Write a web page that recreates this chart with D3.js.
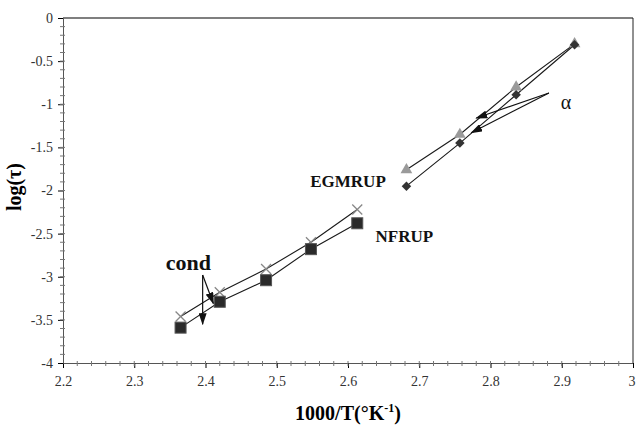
<!DOCTYPE html>
<html>
<head>
<meta charset="utf-8">
<script src="https://cdn.jsdelivr.net/npm/d3@7"></script>
<style>
  body { margin: 0; background: #fff; }
  text { font-family: "Liberation Serif", "Times New Roman", serif; }
</style>
</head>
<body>
<script>
// data
var condX = [2.365, 2.42, 2.485, 2.548, 2.613];
var squareY = [-3.59, -3.29, -3.04, -2.68, -2.38];   // NFRUP
var crossY = [-3.46, -3.18, -2.91, -2.60, -2.22];    // EGMRUP
var alphaX = [2.682, 2.757, 2.836, 2.918];
var triY = [-1.76, -1.35, -0.80, -0.30];             // EGMRUP
var diaY = [-1.95, -1.45, -0.89, -0.31];             // NFRUP
var xTicks = [2.2, 2.3, 2.4, 2.5, 2.6, 2.7, 2.8, 2.9, 3];
var yTicks = [0, -0.5, -1, -1.5, -2, -2.5, -3, -3.5, -4];

var serif = '"Liberation Serif", "Times New Roman", serif';
var width = 636, height = 429;
var margin = {top: 18, right: 3, bottom: 66, left: 63};

var svg = d3.select("body").append("svg")
    .attr("width", width)
    .attr("height", height);

var x = d3.scaleLinear().domain([2.2, 3]).range([margin.left, width - margin.right]);
var y = d3.scaleLinear().domain([-4, 0]).range([height - margin.bottom, margin.top]);

// arrow head
svg.append("defs").append("marker")
    .attr("id", "head")
    .attr("viewBox", "0 0 12 8")
    .attr("refX", 11).attr("refY", 4)
    .attr("markerWidth", 12).attr("markerHeight", 8)
    .attr("markerUnits", "userSpaceOnUse")
    .attr("orient", "auto")
  .append("path")
    .attr("d", "M0,0L12,4L0,8z")
    .style("fill", "#111");

//FRAME
svg.append("line")
    .attr("x1", x(2.2)).attr("x2", x(3))
    .attr("y1", y(0)).attr("y2", y(0))
    .style("stroke", "#555").style("stroke-width", 1.5);
svg.append("line")
    .attr("x1", x(3)).attr("x2", x(3))
    .attr("y1", y(0)).attr("y2", y(-4))
    .style("stroke", "#222").style("stroke-width", 1);

//AXES
var xAxis = svg.append("g")
    .attr("transform", "translate(0," + y(-4) + ")")
    .call(d3.axisBottom(x).tickValues(xTicks).tickSize(5).tickFormat(d => d));
xAxis.attr("font-family", serif);
xAxis.select(".domain").style("stroke", "#555");
xAxis.selectAll("text")
    .style("font-family", serif)
    .style("font-size", "14px").style("fill", "#333").attr("dy", "1.05em")
    .filter(d => d === 3).attr("dx", "-0.1em");

var yAxis = svg.append("g")
    .attr("transform", "translate(" + x(2.2) + ",0)")
    .call(d3.axisLeft(y).tickValues(yTicks).tickSize(5).tickFormat(d => d));
yAxis.attr("font-family", serif);
yAxis.select(".domain").style("stroke", "#555");
yAxis.selectAll("text")
    .style("font-family", serif)
    .style("font-size", "14px").style("fill", "#333").attr("dx", "-0.15em");

// minor ticks
svg.append("g").selectAll("line").data(d3.range(2.22, 3, 0.02))
    .enter().append("line")
    .attr("x1", d => x(d)).attr("x2", d => x(d))
    .attr("y1", y(-4) - 2).attr("y2", y(-4) + 3)
    .style("stroke", "#777");
svg.append("g").selectAll("line").data(d3.range(-3.9, 0, 0.1))
    .enter().append("line")
    .attr("x1", x(2.2) - 3).attr("x2", x(2.2) + 2)
    .attr("y1", d => y(d)).attr("y2", d => y(d))
    .style("stroke", "#777");

// axis titles
var xt = svg.append("text")
    .attr("x", (x(2.2) + x(3)) / 2).attr("y", 420)
    .attr("text-anchor", "middle")
    .style("font-size", "20px").style("font-weight", "bold")
    .text("1000/T(°K");
xt.append("tspan").attr("dy", -8).style("font-size", "12px").text("-1");
xt.append("tspan").attr("dy", 8).text(")");

svg.append("text")
    .attr("transform", "translate(21," + y(-1.96) + ") rotate(-90)")
    .attr("text-anchor", "middle")
    .style("font-size", "20px").style("font-weight", "bold")
    .text("log(τ)");

//LINES
var line = d3.line().x(d => x(d[0])).y(d => y(d[1]));
var series = [
    d3.zip(condX, crossY),
    d3.zip(condX, squareY),
    d3.zip(alphaX, triY),
    d3.zip(alphaX, diaY)
];
svg.append("g").selectAll("path").data(series)
    .enter().append("path")
    .attr("d", line)
    .style("fill", "none")
    .style("stroke", "#1a1a1a")
    .style("stroke-width", 1.1);

//MARKERS
svg.append("g").selectAll("path").data(d3.zip(condX, crossY))
    .enter().append("path")
    .attr("transform", d => "translate(" + x(d[0]) + "," + y(d[1]) + ")")
    .attr("d", "M-5,-5L5,5M-5,5L5,-5")
    .style("stroke", "#888").style("stroke-width", 1.3);

svg.append("g").selectAll("rect").data(d3.zip(condX, squareY))
    .enter().append("rect")
    .attr("x", d => x(d[0]) - 5.5).attr("y", d => y(d[1]) - 5.5)
    .attr("width", 11).attr("height", 11)
    .style("fill", "#2a2a2a").style("stroke", "#555");

svg.append("g").selectAll("path").data(d3.zip(alphaX, triY))
    .enter().append("path")
    .attr("transform", d => "translate(" + x(d[0]) + "," + y(d[1]) + ")")
    .attr("d", d3.symbol(d3.symbolTriangle, 60))
    .style("fill", "#9a9a9a");

svg.append("g").selectAll("path").data(d3.zip(alphaX, diaY))
    .enter().append("path")
    .attr("transform", d => "translate(" + x(d[0]) + "," + y(d[1]) + ") rotate(45)")
    .attr("d", d3.symbol(d3.symbolSquare, 45))
    .style("fill", "#333");

//ANNOTATIONS
var arrows = [
    [[2.882, -0.87], [2.780, -1.16]],
    [[2.882, -0.87], [2.773, -1.33]],
    [[2.396, -2.98], [2.411, -3.31]],
    [[2.396, -2.98], [2.396, -3.55]]
];
svg.append("g").selectAll("line").data(arrows)
    .enter().append("line")
    .attr("x1", d => x(d[0][0])).attr("y1", d => y(d[0][1]))
    .attr("x2", d => x(d[1][0])).attr("y2", d => y(d[1][1]))
    .attr("marker-end", "url(#head)")
    .style("stroke", "#111").style("stroke-width", 1.2);

var labels = [
    {t: "α", x: 2.906, y: -0.97, size: 20, w: "normal"},
    {t: "cond", x: 2.376, y: -2.83, size: 22, w: "bold"},
    {t: "EGMRUP", x: 2.600, y: -1.90, size: 17, w: "bold"},
    {t: "NFRUP", x: 2.679, y: -2.53, size: 17, w: "bold"}
];
svg.append("g").selectAll("text").data(labels)
    .enter().append("text")
    .attr("x", d => x(d.x)).attr("y", d => y(d.y))
    .attr("text-anchor", "middle")
    .attr("dominant-baseline", "central")
    .style("font-size", d => d.size + "px")
    .style("font-weight", d => d.w)
    .style("fill", "#111")
    .text(d => d.t);
</script>
</body>
</html>
